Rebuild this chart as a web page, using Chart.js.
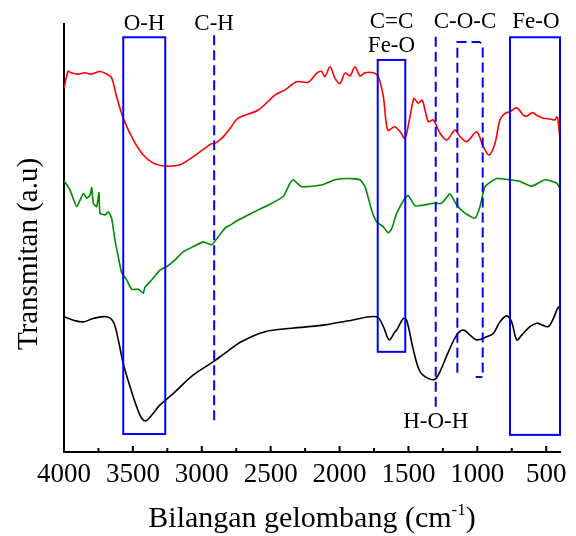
<!DOCTYPE html>
<html>
<head>
<meta charset="utf-8">
<script src="https://cdn.jsdelivr.net/npm/chart.js@4.4.1/dist/chart.umd.min.js"></script>
<style>
  html, body { margin:0; padding:0; background:#fff; }
  #wrap { width:576px; height:536px; position:relative; }
</style>
</head>
<body>
<div id="wrap"><canvas id="chart"></canvas></div>
<script>
// wavenumber (cm-1) / transmittance (a.u.)
const redWave = [4000,3970,3950,3900,3850,3800,3740,3690,3654,3618,3570,3497,3425,3352,3255,3158,3061,2964,2930,2900,2870,2831,2795,2735,2590,2469,2396,2311,2227,2166,2130,2106,2069,2033,1997,1961,1924,1888,1852,1815,1755,1719,1682,1650,1600,1560,1525,1489,1460,1430,1400,1356,1320,1271,1222,1162,1126,1077,1005,957,915,872,836,799,763,714,666,640,600,560,521,470,436,424,415,400];
const redT = [85.0,89.0,88.6,88.3,88.6,88.3,88.9,88.3,87.4,83.0,78.0,72.9,69.4,67.5,66.8,67.1,69.0,71.3,72.0,72.2,72.9,74.1,75.6,78.0,79.9,83.4,84.6,86.5,86.4,88.5,88.9,87.7,90.0,87.3,86.1,88.5,87.9,90.0,87.9,88.6,88.6,87.7,83.0,75.2,76.0,74.8,73.3,78.3,82.6,81.5,82.2,77.2,77.6,74.5,72.9,75.2,73.7,72.5,74.8,71.3,69.4,72.1,77.6,79.1,79.5,80.4,78.7,78.5,79.3,78.5,78.0,77.8,77.6,78.3,77.6,73.3];

const greenWave = [4000,3956,3908,3860,3835,3810,3799,3787,3763,3746,3739,3702,3678,3654,3630,3606,3581,3545,3509,3461,3425,3412,3364,3303,3255,3194,3134,3061,2989,2928,2880,2831,2795,2735,2638,2517,2408,2360,2336,2275,2130,2033,1937,1852,1815,1767,1731,1682,1646,1620,1585,1525,1501,1452,1392,1320,1259,1199,1150,1090,1017,981,944,860,763,690,606,509,424,400];
const greenT = [63.4,61.2,57.3,60.4,59.3,60.0,61.8,58.1,57.3,60.6,55.8,55.4,56.1,54.6,49.5,45.6,41.8,40.2,38.0,38.0,37.1,38.5,40.2,42.5,43.3,44.9,46.8,48.0,49.1,48.4,50.3,52.3,53.0,54.2,55.8,57.7,59.7,62.8,63.6,62.0,62.4,63.6,63.9,63.6,62.0,56.5,53.8,52.6,51.2,52.3,55.8,59.3,59.9,57.5,57.7,58.1,58.1,60.3,57.7,55.8,54.6,57.3,62.0,63.9,63.6,63.2,62.1,63.6,62.8,61.6];

const blackWave = [4000,3932,3860,3787,3690,3642,3606,3570,3521,3473,3436,3405,3364,3303,3206,3061,2916,2831,2710,2541,2347,2106,1912,1731,1682,1640,1600,1585,1537,1513,1464,1416,1356,1307,1271,1210,1150,1102,1053,1005,933,884,836,787,751,714,678,618,569,533,485,448,412,400];
const blackT = [31.6,30.8,30.4,31.2,31.6,30.4,26.2,20.7,15.3,10.6,7.9,7.3,8.6,11.0,13.7,18.0,21.1,23.1,25.8,28.1,28.9,29.7,30.8,31.6,29.3,26.2,28.0,28.5,31.2,30.8,23.8,18.8,17.2,17.0,18.8,23.4,27.3,28.5,27.3,26.2,26.9,27.7,30.4,31.8,30.4,26.2,27.3,29.3,30.1,29.7,29.3,31.2,33.9,33.2];

const tickVals = [4000,3500,3000,2500,2000,1500,1000,500];
const minorVals = [3750,3250,2750,2250,1750,1250,750];

// band markers: [wave from, wave to, T bottom, T top]
const boxRects = [[3570,3265,4.2,96.9],[1723,1523,23.4,91.6],[763,400,4.0,96.9]];
const dashLines = [[2910,6.3,97.4],[1302,10.6,97.0]];
const cocBracket = [[1145,18.5],[1145,95.8],[985,95.8],[961,95.2],[961,17.5],[1012,17.5]];
const bandLabels = ["O-H","C-H","C=C","Fe-O","C-O-C","Fe-O","H-O-H"];
const bandLabelX = [3418,2910,1623,1623,1090,575,1302];
const bandLabelY = [98.6,98.6,99.1,93.5,99.1,99.1,5.6];

const SERIF = "'Liberation Serif', 'Times New Roman', serif";

const pts = (xs, ys) => xs.map((x, i) => ({ x: x, y: ys[i] }));

const marks = {
  id: "marks",
  afterDatasetsDraw(chart){
    const { ctx, chartArea } = chart;
    const sx = chart.scales.x, sy = chart.scales.y;
    const X = v => sx.getPixelForValue(v);
    const Y = v => sy.getPixelForValue(v);
    ctx.save();
    ctx.strokeStyle = "#0000ff";
    ctx.lineWidth = 2;

    for(const b of boxRects){
      ctx.strokeRect(X(b[0]), Y(b[3]), X(b[1]) - X(b[0]), Y(b[2]) - Y(b[3]));
    }

    ctx.setLineDash([10, 5]);
    for(const d of dashLines){
      ctx.beginPath();
      ctx.moveTo(X(d[0]), Y(d[2]));
      ctx.lineTo(X(d[0]), Y(d[1]));
      ctx.stroke();
    }
    ctx.beginPath();
    cocBracket.forEach((p, i) => {
      if(i === 0) ctx.moveTo(X(p[0]), Y(p[1]));
      else ctx.lineTo(X(p[0]), Y(p[1]));
    });
    ctx.stroke();
    ctx.setLineDash([]);

    // band names
    ctx.fillStyle = "#000";
    ctx.font = "23px " + SERIF;
    ctx.textAlign = "center";
    ctx.textBaseline = "alphabetic";
    bandLabels.forEach((t, i) => ctx.fillText(t, X(bandLabelX[i]), Y(bandLabelY[i])));

    // inward tick marks
    ctx.strokeStyle = "#000";
    ctx.lineWidth = 2;
    const b = chartArea.bottom;
    for(const v of tickVals){
      ctx.beginPath(); ctx.moveTo(X(v), b); ctx.lineTo(X(v), b - 6); ctx.stroke();
    }
    for(const v of minorVals){
      ctx.beginPath(); ctx.moveTo(X(v), b); ctx.lineTo(X(v), b - 4); ctx.stroke();
    }

    // x title with superscript
    const main = "Bilangan gelombang (cm", sup = "-1", end = ")";
    ctx.font = "30px " + SERIF;
    const w1 = ctx.measureText(main).width, w3 = ctx.measureText(end).width;
    ctx.font = "17px " + SERIF;
    const w2 = ctx.measureText(sup).width;
    let x0 = (chartArea.left + chartArea.right) / 2 - (w1 + w2 + w3) / 2;
    const base = 527;
    ctx.textAlign = "left";
    ctx.font = "30px " + SERIF;
    ctx.fillText(main, x0, base);
    ctx.font = "17px " + SERIF;
    ctx.fillText(sup, x0 + w1, base - 12);
    ctx.font = "30px " + SERIF;
    ctx.fillText(end, x0 + w1 + w2, base);

    // y title
    ctx.translate(29, 254);
    ctx.rotate(-Math.PI / 2);
    ctx.textAlign = "center";
    ctx.textBaseline = "middle";
    ctx.font = "29px " + SERIF;
    ctx.fillText("Transmitan (a.u)", 0, 0);
    ctx.restore();
  }
};

const line = (data, color, tension) => ({
  data: data,
  borderColor: color,
  borderWidth: 1.6,
  pointRadius: 0,
  fill: false,
  tension: tension
});

new Chart(document.getElementById("chart").getContext("2d"), {
  type: "line",
  data: {
    datasets: [
      line(pts(redWave, redT), "#ff0000", 0.3),
      line(pts(greenWave, greenT), "#008a00", 0.15),
      line(pts(blackWave, blackT), "#000000", 0.35)
    ]
  },
  options: {
    responsive: true,
    maintainAspectRatio: false,
    animation: false,
    layout: { padding: { top: 24, right: 16, left: 0, bottom: 0 } },
    plugins: { legend: { display: false }, tooltip: { enabled: false } },
    scales: {
      x: {
        type: "linear",
        reverse: true,
        min: 400,
        max: 4000,
        afterBuildTicks: s => { s.ticks = tickVals.map(v => ({ value: v })); },
        afterFit: s => { s.height = 84; },
        grid: { display: false, drawTicks: false },
        border: { display: true, color: "#000", width: 2 },
        ticks: {
          color: "#000", padding: 7, maxRotation: 0, autoSkip: false,
          font: { family: SERIF, size: 27 },
          callback: v => String(v)
        }
      },
      y: {
        min: 0,
        max: 100,
        afterFit: s => { s.width = 64; },
        grid: { display: false, drawTicks: false },
        border: { display: true, color: "#000", width: 2 },
        ticks: { display: false }
      }
    }
  },
  plugins: [marks]
});
</script>
</body>
</html>
